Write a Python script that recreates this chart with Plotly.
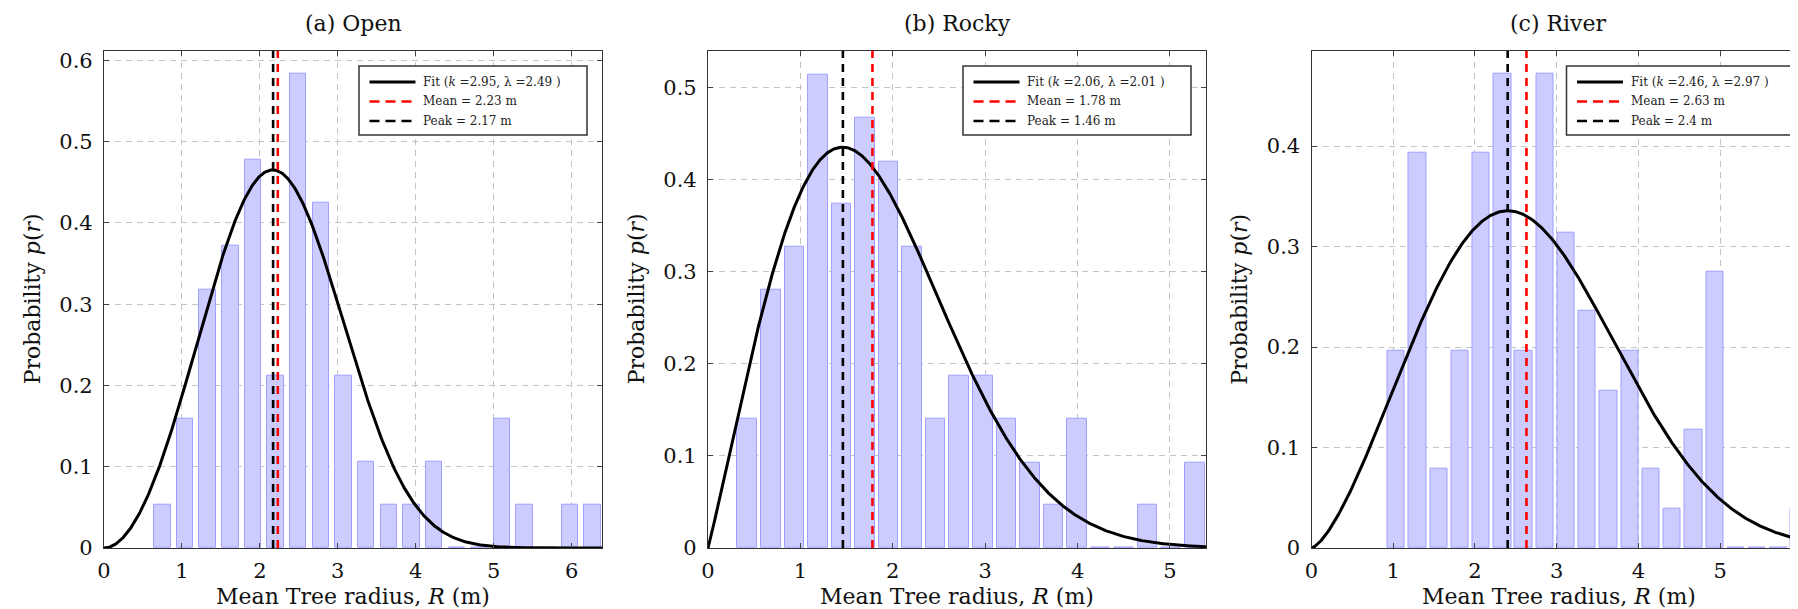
import numpy as np
import plotly.graph_objects as go

W, H = 1798, 609

# ---------------- data ----------------
titles = ["(a) Open", "(b) Rocky", "(c) River"]

open_centers = [0.749, 1.040, 1.330, 1.621, 1.911, 2.202, 2.492, 2.783, 3.074, 3.364,
                3.655, 3.945, 4.236, 4.527, 4.817, 5.108, 5.398, 5.689, 5.979, 6.270]
open_values = [0.053, 0.159, 0.318, 0.372, 0.478, 0.212, 0.584, 0.425, 0.212, 0.106,
               0.053, 0.053, 0.106, 0.0, 0.0, 0.159, 0.053, 0.0, 0.053, 0.053]

rocky_centers = [0.424, 0.679, 0.934, 1.189, 1.444, 1.699, 1.954, 2.209, 2.464, 2.719,
                 2.974, 3.229, 3.484, 3.739, 3.994, 4.249, 4.504, 4.759, 5.014, 5.269]
rocky_values = [0.140, 0.280, 0.327, 0.514, 0.374, 0.467, 0.420, 0.327, 0.140, 0.187,
                0.187, 0.140, 0.093, 0.047, 0.140, 0.0, 0.0, 0.047, 0.0, 0.093]

river_centers = [1.037, 1.297, 1.556, 1.816, 2.076, 2.336, 2.595, 2.855, 3.115, 3.374,
                 3.634, 3.894, 4.153, 4.413, 4.673, 4.933, 5.192, 5.452, 5.712, 5.971]
river_values = [0.196, 0.393, 0.079, 0.196, 0.393, 0.472, 0.196, 0.472, 0.314, 0.236,
                0.157, 0.196, 0.079, 0.039, 0.118, 0.275, 0.0, 0.0, 0.0, 0.039]

fit_k = [2.95, 2.06, 2.46]
fit_lambda = [2.49, 2.01, 2.97]
mean_r = [2.23, 1.78, 2.63]
peak_r = [2.17, 1.46, 2.4]

x_ticks = [[0, 1, 2, 3, 4, 5, 6], [0, 1, 2, 3, 4, 5], [0, 1, 2, 3, 4, 5, 6]]
y_ticks = [[0, 0.1, 0.2, 0.3, 0.4, 0.5, 0.6], [0, 0.1, 0.2, 0.3, 0.4, 0.5], [0, 0.1, 0.2, 0.3, 0.4]]

centers = [open_centers, rocky_centers, river_centers]
values = [open_values, rocky_values, river_values]

# ---------------- layout geometry (pixels) ----------------
x_ranges = [[0, 6.39], [0, 5.39], [0, 6.05]]
y_ranges = [[0, 0.612], [0, 0.54], [0, 0.495]]
x_px = [(96, 594), (700, 1198), (1303.5, 1798)]
plot_top, plot_bot = 42.7, 540

FONT = "DejaVu Serif"
TEXT = "#111111"


def fx(p):
    return p / W


def fy(p):
    return 1 - p / H


fig = go.Figure()
annotations = []
shapes = []
layout = {}

for i in range(3):
    sfx = "" if i == 0 else str(i + 1)
    xa, ya = "x" + sfx, "y" + sfx

    fig.add_trace(go.Bar(
        x=centers[i], y=values[i], width=0.212,
        marker=dict(color="#ccccff", line=dict(color="#a0a0ff", width=1)),
        showlegend=False, xaxis=xa, yaxis=ya, hoverinfo="skip"))

    k, lam = fit_k[i], fit_lambda[i]
    xs = np.linspace(0, x_ranges[i][1], 500)
    ys = (k / lam) * (xs / lam) ** (k - 1) * np.exp(-(xs / lam) ** k)
    fit_name = f"Fit (<i>k</i> ={k:.2f}, λ ={lam:.2f} )"
    mean_name = f"Mean = {mean_r[i]} m"
    peak_name = f"Peak = {peak_r[i]} m"

    fig.add_trace(go.Scatter(
        x=xs, y=ys, mode="lines", line=dict(color="black", width=3),
        name=fit_name, showlegend=False, xaxis=xa, yaxis=ya))
    fig.add_trace(go.Scatter(
        x=[mean_r[i], mean_r[i]], y=[0, y_ranges[i][1]], mode="lines",
        line=dict(color="#ff0000", width=2.6, dash="8px,6px"),
        name=mean_name, showlegend=False, xaxis=xa, yaxis=ya))
    fig.add_trace(go.Scatter(
        x=[peak_r[i], peak_r[i]], y=[0, y_ranges[i][1]], mode="lines",
        line=dict(color="black", width=2.6, dash="8px,6px"),
        name=peak_name, showlegend=False, xaxis=xa, yaxis=ya))

    common = dict(showline=True, linecolor="#333333", linewidth=1.2,
                  ticks="inside", ticklen=5, tickcolor="#444444", tickwidth=1,
                  showgrid=True, gridcolor="#c4c4c4", gridwidth=1, griddash="6px,5px",
                  zeroline=False, fixedrange=True, ticklabeloverflow="allow",
                  tickfont=dict(family=FONT, size=21, color=TEXT))

    layout["xaxis" + sfx] = dict(
        common, domain=[fx(x_px[i][0]), fx(x_px[i][1])], range=x_ranges[i],
        tickvals=x_ticks[i], ticktext=[str(v) for v in x_ticks[i]],
        anchor=ya, mirror="ticks", ticklabelstandoff=4)
    layout["yaxis" + sfx] = dict(
        common, domain=[fy(plot_bot), fy(plot_top)], range=y_ranges[i],
        tickvals=y_ticks[i], ticktext=[("0" if v == 0 else f"{v:.1f}") for v in y_ticks[i]],
        anchor=xa, mirror=("ticks" if i < 2 else False), ticklabelstandoff=6)

    # ---- legend box (drawn in paper pixels) ----
    bx0 = x_px[i][0] + 255
    bx1 = bx0 + 228
    by0, by1 = 58, 127
    shapes.append(dict(type="rect", xref="paper", yref="paper",
                       x0=fx(bx0), x1=fx(bx1), y0=fy(by1), y1=fy(by0),
                       fillcolor="white", line=dict(color="#333333", width=1.5),
                       layer="above"))
    rows = [(74, "black", "solid", fit_name),
            (93.5, "#ff0000", "10px,6px", mean_name),
            (113, "black", "10px,6px", peak_name)]
    for ry, col, dsh, label in rows:
        shapes.append(dict(type="line", xref="paper", yref="paper",
                           x0=fx(bx0 + 10.5), x1=fx(bx0 + 56.5), y0=fy(ry), y1=fy(ry),
                           line=dict(color=col, width=3 if dsh == "solid" else 2.6, dash=dsh),
                           layer="above"))
        annotations.append(dict(text=label, x=fx(bx0 + 62), y=fy(ry),
                                xref="paper", yref="paper", xanchor="left",
                                yanchor="middle", showarrow=False,
                                font=dict(family=FONT, size=12, color="#222222")))

    cx = (x_px[i][0] + min(x_px[i][1], x_px[i][0] + 498)) / 2
    annotations.append(dict(
        text=titles[i], x=fx(cx), y=fy(16), xref="paper", yref="paper",
        xanchor="center", yanchor="middle", showarrow=False,
        font=dict(family=FONT, size=22, color=TEXT)))
    annotations.append(dict(
        text="Mean Tree radius, <i>R</i> (m)", x=fx(cx), y=fy(588),
        xref="paper", yref="paper", xanchor="center", yanchor="middle",
        showarrow=False, font=dict(family=FONT, size=22, color=TEXT)))
    annotations.append(dict(
        text="Probability <i>p</i>(<i>r</i>)", x=fx(x_px[i][0] - 72),
        y=fy((plot_top + plot_bot) / 2), xref="paper", yref="paper",
        xanchor="center", yanchor="middle", textangle=-90, showarrow=False,
        font=dict(family=FONT, size=22, color=TEXT)))

fig.update_layout(
    template="none", width=W, height=H,
    margin=dict(l=0, r=0, t=0, b=0),
    paper_bgcolor="white", plot_bgcolor="white", showlegend=False,
    annotations=annotations, shapes=shapes, bargap=0, **layout)

fig.write_html("out.html")
